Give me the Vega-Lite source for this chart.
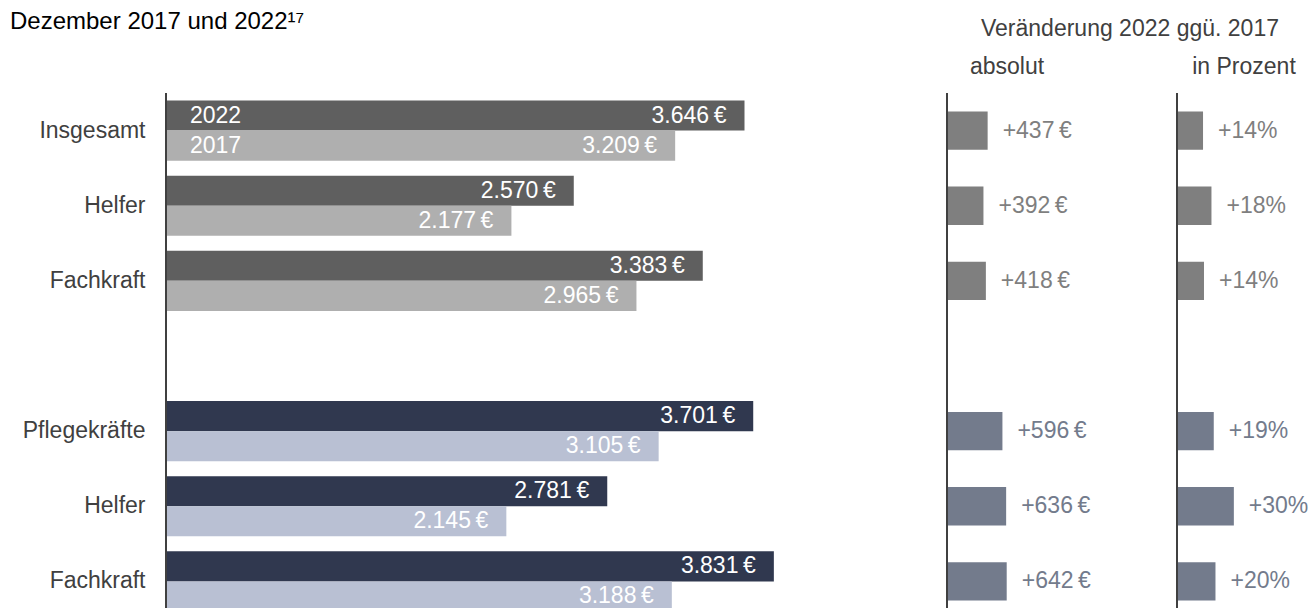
{
  "$schema": "https://vega.github.io/schema/vega-lite/v6.json",
  "padding": {"left": 10, "top": 10, "right": 0, "bottom": 0},
  "bounds": "flush",
  "spacing": 67,
  "background": "#ffffff",
  "config": {
    "view": {"stroke": null},
    "font": "Liberation Sans",
    "locale": {"number": {"decimal": ",", "thousands": ".", "grouping": [3], "currency": ["", "\u2009€"]}},
    "title": {"font": "Liberation Sans", "fontWeight": "normal"},
    "axis": {"labelFont": "Liberation Sans"}
  },
  "datasets": {
    "gehalt": [
      {"zeile": "Insgesamt", "jahr": "2022", "reihe": "Alle 2022", "wert": 3646},
      {"zeile": "Insgesamt", "jahr": "2017", "reihe": "Alle 2017", "wert": 3209},
      {"zeile": "Helfer", "jahr": "2022", "reihe": "Alle 2022", "wert": 2570},
      {"zeile": "Helfer", "jahr": "2017", "reihe": "Alle 2017", "wert": 2177},
      {"zeile": "Fachkraft", "jahr": "2022", "reihe": "Alle 2022", "wert": 3383},
      {"zeile": "Fachkraft", "jahr": "2017", "reihe": "Alle 2017", "wert": 2965},
      {"zeile": "Pflegekräfte", "jahr": "2022", "reihe": "Pflege 2022", "wert": 3701},
      {"zeile": "Pflegekräfte", "jahr": "2017", "reihe": "Pflege 2017", "wert": 3105},
      {"zeile": "Pflege-Helfer", "jahr": "2022", "reihe": "Pflege 2022", "wert": 2781},
      {"zeile": "Pflege-Helfer", "jahr": "2017", "reihe": "Pflege 2017", "wert": 2145},
      {"zeile": "Pflege-Fachkraft", "jahr": "2022", "reihe": "Pflege 2022", "wert": 3831},
      {"zeile": "Pflege-Fachkraft", "jahr": "2017", "reihe": "Pflege 2017", "wert": 3188}
    ],
    "veraenderung": [
      {"zeile": "Insgesamt", "gruppe": "Alle", "absolut": 437, "prozent": 0.136},
      {"zeile": "Helfer", "gruppe": "Alle", "absolut": 392, "prozent": 0.180},
      {"zeile": "Fachkraft", "gruppe": "Alle", "absolut": 418, "prozent": 0.141},
      {"zeile": "Pflegekräfte", "gruppe": "Pflege", "absolut": 596, "prozent": 0.192},
      {"zeile": "Pflege-Helfer", "gruppe": "Pflege", "absolut": 636, "prozent": 0.297},
      {"zeile": "Pflege-Fachkraft", "gruppe": "Pflege", "absolut": 642, "prozent": 0.201}
    ]
  },
  "resolve": {"scale": {"color": "independent"}},
  "hconcat": [
    {
      "width": 714,
      "height": 515,
      "title": {"text": "Dezember 2017 und 2022¹⁷", "anchor": "start", "frame": "group", "dx": -156, "offset": 39, "baseline": "alphabetic", "fontSize": 24, "color": "#000000"},
      "data": {"name": "gehalt"},
      "layer": [
        {
          "mark": {"type": "bar", "clip": true},
          "encoding": {
            "y": {"field": "zeile", "type": "nominal",
              "scale": {"domain": ["Insgesamt", "Helfer", "Fachkraft", "leer", "Pflegekräfte", "Pflege-Helfer", "Pflege-Fachkraft"], "range": [0, 526], "paddingInner": 0.2, "paddingOuter": 0.1},
              "axis": {"title": null, "ticks": false, "tickSize": 0, "domain": false, "labelPadding": 21, "labelFontSize": 23, "labelColor": "#404040",
                "labelExpr": "datum.label == 'leer' ? '' : datum.label == 'Pflege-Helfer' ? 'Helfer' : datum.label == 'Pflege-Fachkraft' ? 'Fachkraft' : datum.label"}},
            "yOffset": {"field": "jahr", "type": "nominal", "scale": {"domain": ["2022", "2017"]}},
            "x": {"field": "wert", "type": "quantitative", "scale": {"domain": [0, 4500]}, "axis": null},
            "color": {"field": "reihe", "type": "nominal", "legend": null,
              "scale": {"domain": ["Alle 2022", "Alle 2017", "Pflege 2022", "Pflege 2017"], "range": ["#5f5f5f", "#afafaf", "#30384f", "#b9c0d3"]}}
          }
        },
        {
          "mark": {"type": "text", "align": "right", "baseline": "middle", "dx": -18, "fontSize": 23, "color": "#ffffff", "clip": true},
          "encoding": {
            "y": {"field": "zeile", "type": "nominal"},
            "yOffset": {"field": "jahr", "type": "nominal"},
            "x": {"field": "wert", "type": "quantitative"},
            "text": {"field": "wert", "type": "quantitative", "format": "$,.0f"}
          }
        },
        {
          "transform": [{"filter": "datum.zeile == 'Insgesamt'"}],
          "mark": {"type": "text", "align": "left", "baseline": "middle", "dx": 24, "fontSize": 23, "color": "#ffffff"},
          "encoding": {
            "y": {"field": "zeile", "type": "nominal"},
            "yOffset": {"field": "jahr", "type": "nominal"},
            "x": {"datum": 0},
            "text": {"field": "jahr", "type": "nominal"}
          }
        },
        {
          "transform": [{"filter": "datum.zeile == 'Insgesamt' && datum.jahr == '2022'"}],
          "mark": {"type": "rule", "color": "#404040", "strokeWidth": 2},
          "encoding": {"x": {"datum": 0}}
        }
      ]
    },
    {
      "title": {"text": "Veränderung 2022 ggü. 2017", "anchor": "middle", "frame": "group", "dx": 183, "offset": -3, "baseline": "alphabetic", "fontSize": 23, "color": "#404040"},
      "bounds": "flush",
      "spacing": 44,
      "data": {"name": "veraenderung"},
      "hconcat": [
        {
          "width": 186,
          "height": 515,
          "title": {"text": "absolut", "anchor": "middle", "dx": -33, "offset": -5, "baseline": "alphabetic", "fontSize": 23, "color": "#404040"},
          "layer": [
            {
              "mark": {"type": "bar", "clip": true},
              "encoding": {
                "y": {"field": "zeile", "type": "nominal",
                  "scale": {"domain": ["Insgesamt", "Helfer", "Fachkraft", "leer", "Pflegekräfte", "Pflege-Helfer", "Pflege-Fachkraft"], "range": [0, 526], "paddingInner": 0.49, "paddingOuter": 0.245},
                  "axis": null},
                "x": {"field": "absolut", "type": "quantitative", "scale": {"domain": [0, 2000]}, "axis": null},
                "color": {"field": "gruppe", "type": "nominal", "legend": null, "scale": {"domain": ["Alle", "Pflege"], "range": ["#7f7f7f", "#737b8c"]}}
              }
            },
            {
              "mark": {"type": "text", "align": "left", "baseline": "middle", "dx": 15, "fontSize": 23, "clip": true},
              "encoding": {
                "y": {"field": "zeile", "type": "nominal"},
                "x": {"field": "absolut", "type": "quantitative"},
                "text": {"field": "absolut", "type": "quantitative", "format": "+$,.0f"},
                "color": {"field": "gruppe", "type": "nominal", "legend": null}
              }
            },
            {
              "transform": [{"filter": "datum.zeile == 'Insgesamt'"}],
              "mark": {"type": "rule", "color": "#404040", "strokeWidth": 2},
              "encoding": {"x": {"datum": 0}}
            }
          ]
        },
        {
          "width": 134,
          "height": 515,
          "title": {"text": "in Prozent", "anchor": "middle", "dx": 0, "offset": -5, "baseline": "alphabetic", "fontSize": 23, "color": "#404040"},
          "layer": [
            {
              "mark": {"type": "bar", "clip": true},
              "encoding": {
                "y": {"field": "zeile", "type": "nominal",
                  "scale": {"domain": ["Insgesamt", "Helfer", "Fachkraft", "leer", "Pflegekräfte", "Pflege-Helfer", "Pflege-Fachkraft"], "range": [0, 526], "paddingInner": 0.49, "paddingOuter": 0.245},
                  "axis": null},
                "x": {"field": "prozent", "type": "quantitative", "scale": {"domain": [0, 0.68]}, "axis": null},
                "color": {"field": "gruppe", "type": "nominal", "legend": null, "scale": {"domain": ["Alle", "Pflege"], "range": ["#7f7f7f", "#737b8c"]}}
              }
            },
            {
              "mark": {"type": "text", "align": "left", "baseline": "middle", "dx": 15, "fontSize": 23, "clip": true},
              "encoding": {
                "y": {"field": "zeile", "type": "nominal"},
                "x": {"field": "prozent", "type": "quantitative"},
                "text": {"field": "prozent", "type": "quantitative", "format": "+.0%"},
                "color": {"field": "gruppe", "type": "nominal", "legend": null}
              }
            },
            {
              "transform": [{"filter": "datum.zeile == 'Insgesamt'"}],
              "mark": {"type": "rule", "color": "#404040", "strokeWidth": 2},
              "encoding": {"x": {"datum": 0}}
            }
          ]
        }
      ]
    }
  ]
}
